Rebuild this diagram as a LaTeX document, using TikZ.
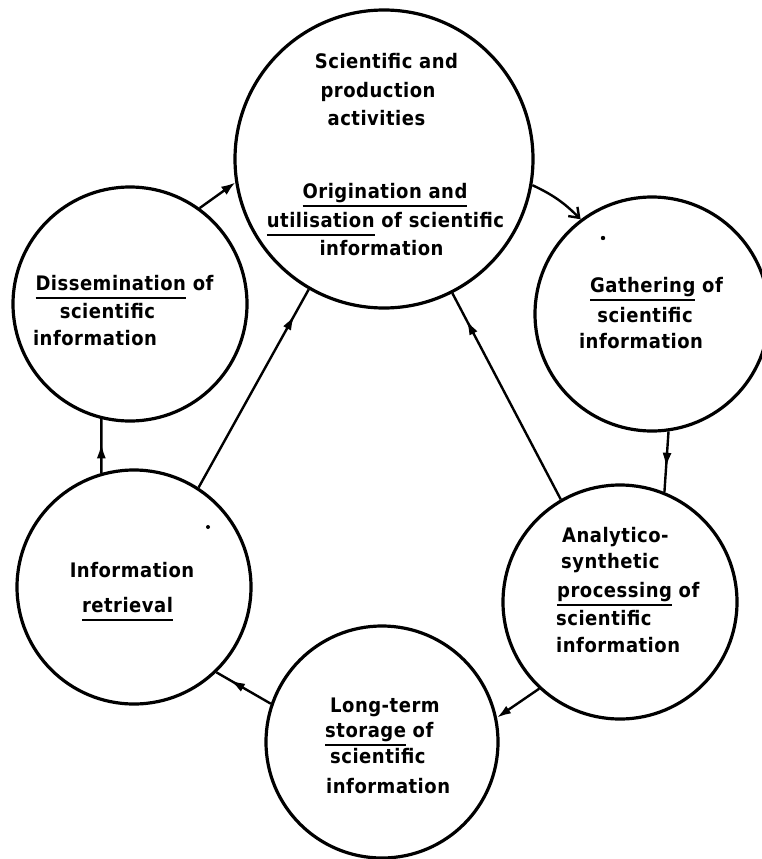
\documentclass[tikz,border=0pt]{standalone}
\usepackage{fontspec}
\newfontfamily\lblfont[LetterSpace=2.5]{DejaVu Sans Condensed Bold}
\usetikzlibrary{arrows.meta, decorations.markings}
\newlength\ulw
\newcommand\ulin[1]{\settowidth{\ulw}{#1}\rlap{\rule[-8.5pt]{\ulw}{2pt}}#1}
\begin{document}
\begin{tikzpicture}[x=1pt, y=-1pt,
  bub/.style={circle, draw, line width=3.2pt, inner sep=0pt, minimum size=#1},
  lbl/.style={anchor=base, inner sep=0pt, font=\lblfont\fontsize{20}{24}\selectfont},
  lbll/.style={lbl, anchor=base west},
  conn/.style={line width=2.4pt},
  midtip/.style={postaction={decorate}, decoration={markings, mark=at position #1 with {\arrow{Latex[length=15pt,width=9pt]}}}}
]
\useasboundingbox (0,0) rectangle (761,859);

% circles
\node[bub=298pt] (top) at (384,159) {};
\node[bub=234pt] (dis) at (130,304) {};
\node[bub=234pt] (gath) at (652,314) {};
\node[bub=234pt] (ret) at (134,587) {};
\node[bub=234pt] (ana) at (620,602) {};
\node[bub=232pt] (lt) at (382,742) {};

% texts: top circle
\node[lbl] (t1) at (386.5,69) {Scientific and};
\node[lbl] (t2) at (378,97) {production};
\node[lbl] (t3) at (376.5,125) {activities};
\node[lbl] (t4) at (385,198) {\ulin{Origination and}};
\node[lbl] (t5) at (385.5,227) {\ulin{utilisation} of scientific};
\node[lbl] (t6) at (381.5,255) {information};

% dissemination
\node[lbl] (d1) at (124.5,290) {\ulin{Dissemination} of};
\node[lbl] (d2) at (107.5,318) {scientific};
\node[lbl] (d3) at (95,345) {information};

% gathering
\node[lbl] (g1) at (656.5,292) {\ulin{Gathering} of};
\node[lbl] (g2) at (645,322) {scientific};
\node[lbl] (g3) at (641,348) {information};

% analytico-synthetic
\node[lbll] (a1) at (562,542) {Analytico-};
\node[lbll] (a2) at (561,568) {synthetic};
\node[lbll] (a3) at (557,597) {\ulin{processing} of};
\node[lbll] (a4) at (556,625) {scientific};
\node[lbll] (a5) at (556,652) {information};

% long-term storage
\node[lbll] (l1) at (330,712) {Long-term};
\node[lbll] (l2) at (325,737) {\ulin{storage} of};
\node[lbll] (l3) at (330,763) {scientific};
\node[lbll] (l4) at (326,793) {information};

% retrieval
\node[lbl] (r1) at (132,577) {Information};
\node[lbl] (r2) at (127.5,612) {\ulin{retrieval}};

% connectors
\draw[conn, -{Straight Barb[length=9pt,width=13pt]}] (top.-10) to[out=-25, in=135] (gath.127);
\draw[conn, midtip=0.6] (gath.-82) -- (ana.68);
\draw[conn, -{Latex[length=14pt,width=9pt]}] (ana.227) -- (lt.12);
\draw[conn, midtip=0.75] (lt.161) -- (ret.-46);
\draw[conn, midtip=0.55] (ret.106) -- (dis.-104);
\draw[conn, -{Latex[length=14pt,width=10pt]}] (dis.54) -- (top.189);
\draw[conn, midtip=0.87] (ret.57.5) -- (top.240);
\draw[conn, midtip=0.87] (ana.120) -- (top.-63);

% specks
\fill (603,238) circle (2.2pt);
\fill (208,527) circle (2pt);
\end{tikzpicture}
\end{document}
